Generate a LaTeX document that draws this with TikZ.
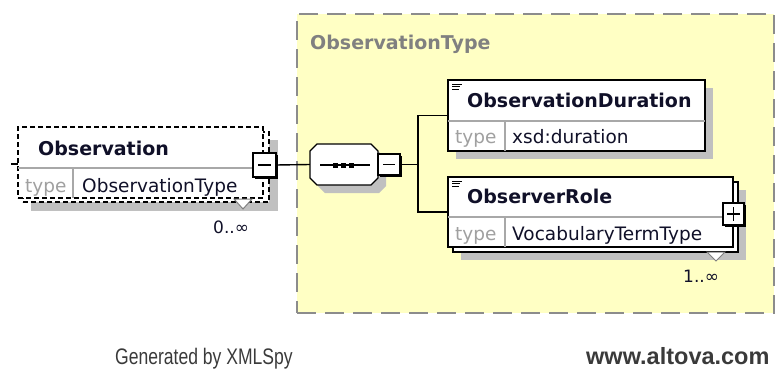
\documentclass[tikz,border=0pt]{standalone}
\usepackage{fontspec}
\usepackage{graphicx}
\setmainfont{DejaVu Sans}
\newfontfamily\footfont{Liberation Sans}
\definecolor{yel}{HTML}{FFFFC4}
\definecolor{shad}{HTML}{C0C0C0}
\definecolor{bord}{HTML}{8C8C8C}
\definecolor{typec}{HTML}{A0A0A0}
\definecolor{txt}{HTML}{101028}
\definecolor{divc}{HTML}{A8A8A8}
\definecolor{foot}{HTML}{3A3A3A}
\begin{document}
\begin{tikzpicture}[x=1pt,y=-1pt,
  elbox/.style={draw=black, line width=1.4pt, fill=white, anchor=north west, inner sep=0pt, outer sep=0pt},
  optbox/.style={draw=black, line width=1.4pt, dash pattern=on 5pt off 3pt, fill=white, anchor=north west, inner sep=0pt, outer sep=0pt},
  tbox/.style={draw=black, line width=1.4pt, fill=white, anchor=north west, inner sep=0pt, outer sep=0pt},
  divline/.style={draw=divc, line width=1.2pt},
  conn/.style={draw=black, line width=1.4pt},
  shadowfill/.style={fill=shad},
  headtxt/.style={anchor=base west, inner sep=0pt, text=txt, font=\bfseries\fontsize{19}{22}\selectfont},
  typetxt/.style={anchor=base west, inner sep=0pt, text=typec, font=\fontsize{18.5}{22}\selectfont},
  valtxt/.style={anchor=base west, inner sep=0pt, text=txt, font=\fontsize{18.5}{22}\selectfont},
  multtxt/.style={anchor=base west, inner sep=0pt, text=txt, font=\fontsize{17}{20}\selectfont},
  vmark/.style={draw=gray, line width=1pt, fill=white},
  icon/.style={draw=black, line width=1pt}
]
\useasboundingbox (0,0) rectangle (776,370);

% complex type container
\node[draw=bord, line width=2pt, dash pattern=on 19pt off 9pt, fill=yel, anchor=north west,
      minimum width=477pt, minimum height=299pt, inner sep=0pt] (ctype) at (296,13) {};
\node[anchor=base west, inner sep=0pt, text=gray, font=\bfseries\fontsize{19}{22}\selectfont] (ctitle) at (310,49) {ObservationType};

% ---- Observation element (0..inf, optional)
\fill[shadowfill] (31,140) rectangle (278,211);
\node[optbox, minimum width=246pt, minimum height=70pt] (obsback) at (23,132) {};
\node[optbox, minimum width=245pt, minimum height=71pt] (obs) at (18,127) {};
\draw[line width=1.2pt] (11,164) -- (18,164);
\draw[divline] (18,168) -- (253,168);
\draw[divline] (73,168) -- (73,198);
\node[headtxt] (obsname) at (38,155) {Observation};
\node[typetxt] (obstype) at (25,192) {type};
\node[valtxt] (obsval) at (82,192) {ObservationType};
\draw[vmark] (234,199) -- (252,199) -- (243,209) -- cycle;
\node[multtxt] (obsmult) at (213,233) {0..∞};
\fill[black] (255,155) rectangle (278,179);
\node[tbox, minimum width=23pt, minimum height=24pt] (obsminus) at (253,153) {};
\draw[line width=1.4pt] (258,165) -- (271,165);

% ---- sequence compositor
\fill[shadowfill] (325,152) -- (379,152) -- (386,159) -- (386,186) -- (379,193) -- (325,193) -- (318,186) -- (318,159) -- cycle;
\filldraw[fill=white, draw=black, line width=1.4pt] (317,144) -- (371,144) -- (378,151) -- (378,178) -- (371,185) -- (317,185) -- (310,178) -- (310,151) -- cycle;
\node[inner sep=0pt, minimum width=68pt, minimum height=41pt] (seq) at (344,164.5) {};
\draw[line width=1.2pt] (320,165) -- (370,165);
\fill[black] (333,162.5) rectangle (338,167.5);
\fill[black] (341,162.5) rectangle (346,167.5);
\fill[black] (349,162.5) rectangle (354,167.5);
\fill[black] (380,156) rectangle (402,177);
\node[tbox, minimum width=22pt, minimum height=21pt] (seqminus) at (378,154) {};
\draw[line width=1.4pt] (383,164.5) -- (395,164.5);

% ---- ObservationDuration
\fill[shadowfill] (456,88) rectangle (713,159);
\node[elbox, minimum width=257pt, minimum height=71pt] (dur) at (448,80) {};
\draw[divline] (448,121) -- (705,121);
\draw[divline] (505,121) -- (505,151);
\draw[icon] (452,84) -- (462,84);
\draw[icon] (452,86.5) -- (460,86.5);
\draw[icon] (452,89) -- (459,89);
\node[headtxt] (durname) at (467,107) {ObservationDuration};
\node[typetxt] (durtype) at (455,143) {type};
\node[valtxt] (durval) at (512,143) {xsd:duration};

% ---- ObserverRole (1..inf)
\fill[shadowfill] (461,190) rectangle (746,260);
\node[elbox, minimum width=285pt, minimum height=70pt] (roleback) at (453,182) {};
\node[elbox, minimum width=285pt, minimum height=70pt] (role) at (448,177) {};
\draw[divline] (448,217) -- (733,217);
\draw[divline] (505,217) -- (505,247);
\draw[icon] (452,181) -- (462,181);
\draw[icon] (452,183.5) -- (460,183.5);
\draw[icon] (452,186) -- (459,186);
\node[headtxt] (rolename) at (467,203) {ObserverRole};
\node[typetxt] (roletype) at (455,240) {type};
\node[valtxt] (roleval) at (512,240) {VocabularyTermType};
\draw[vmark] (707,252) -- (725,252) -- (716,261) -- cycle;
\node[multtxt] (rolemult) at (683,282) {1..∞};
\fill[black] (725,205) rectangle (746,227);
\node[tbox, minimum width=21pt, minimum height=22pt] (roleplus) at (723,203) {};
\draw[line width=1.4pt] (727,214) -- (740,214);
\draw[line width=1.4pt] (733.5,207) -- (733.5,221);

% ---- connectors
\coordinate (jn) at (418,164.5);
\draw[conn] (obsminus.east) -- (seq.west);
\draw[conn] (seqminus.east) -- (jn);
\draw[conn] (jn) |- (dur.west);
\draw[conn] (jn) |- (role.west);

% ---- footer
\node[anchor=base west, inner sep=0pt, text=foot, font=\footfont\fontsize{22.5}{26}\selectfont] (gen) at (115,364) {\scalebox{0.78}[1]{Generated by XMLSpy}};
\node[anchor=base west, inner sep=0pt, text=foot, font=\footfont\bfseries\fontsize{23.5}{27}\selectfont] (alt) at (586,364) {www.altova.com};
\end{tikzpicture}
\end{document}
